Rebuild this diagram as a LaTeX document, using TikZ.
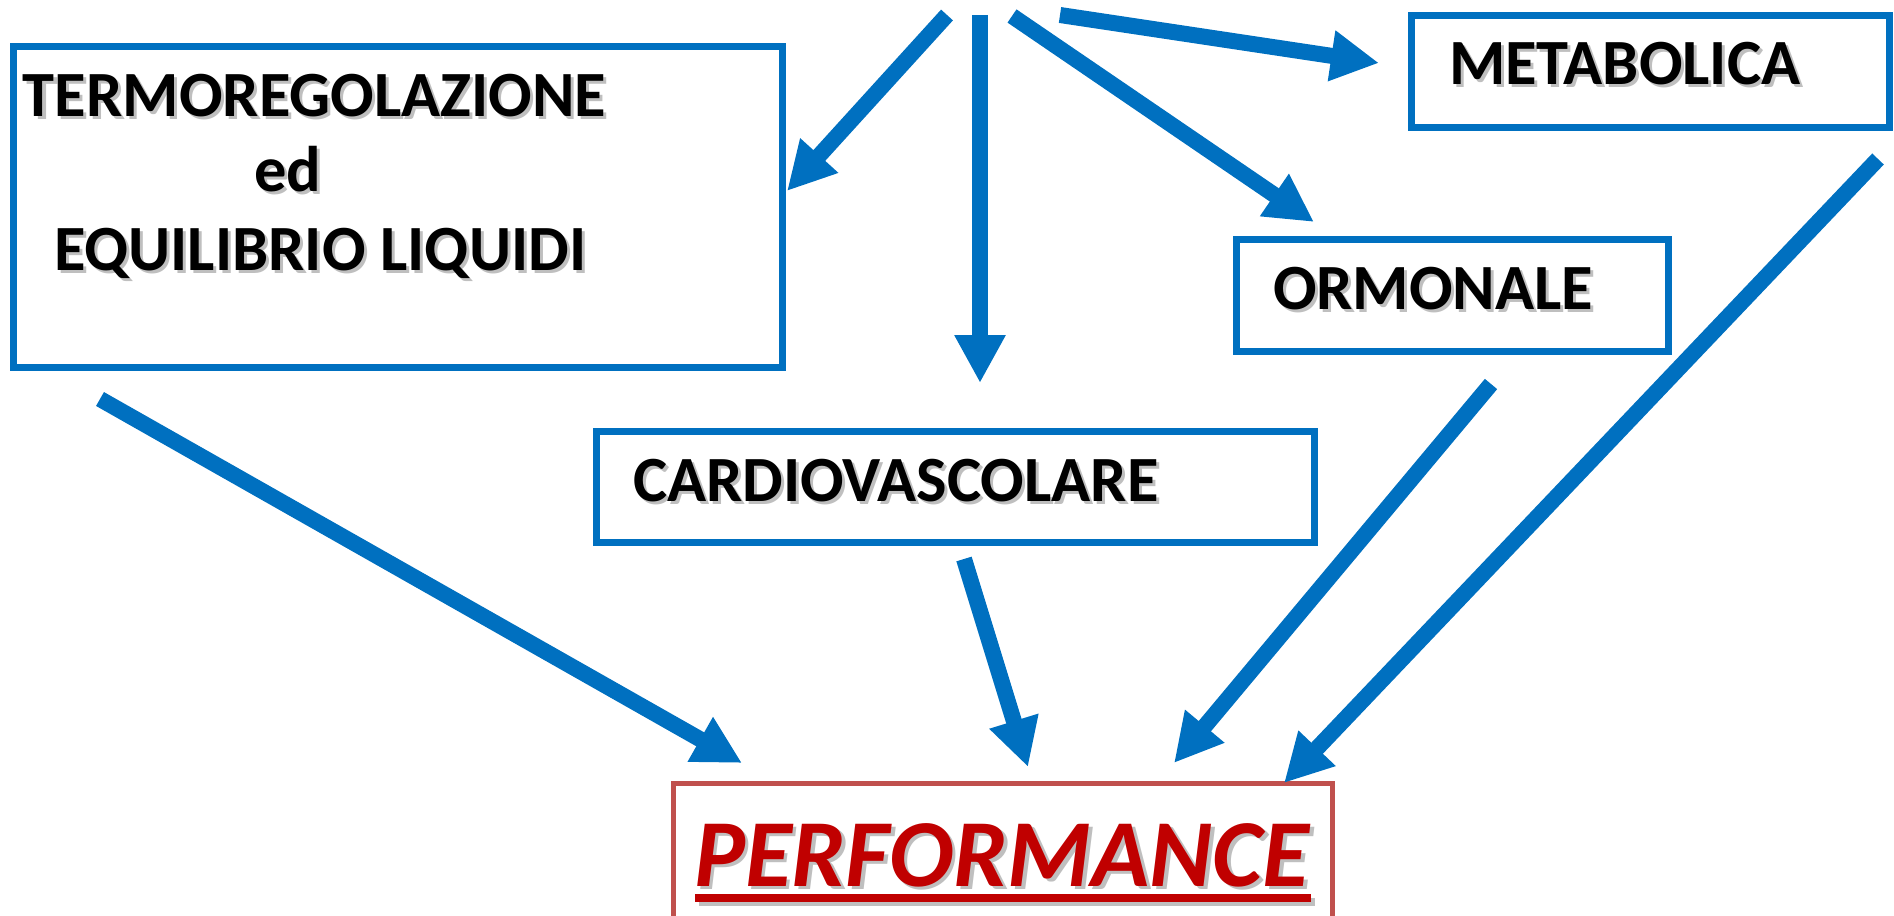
\documentclass[tikz,border=0pt]{standalone}
\usepackage{fontspec}
\setmainfont{Carlito}
\usetikzlibrary{arrows.meta}
\definecolor{oblue}{HTML}{0070C0}
\definecolor{ored}{HTML}{C00000}
\definecolor{obrd}{HTML}{C0504D}
\definecolor{shgray}{HTML}{BFBFBF}
\newcommand\shtxt[2][3pt]{\makebox[0pt][l]{\hspace{#1}\raisebox{-#1}{\color{shgray}#2}}#2}
\tikzset{
  bx/.style={draw=oblue, line width=7pt, inner sep=0pt, outer sep=0pt},
  pbx/.style={draw=obrd, line width=5pt, inner sep=0pt, outer sep=0pt},
  lbl/.style={inner sep=0pt, outer sep=0pt, anchor=base west, font=\fontsize{64.5}{70}\selectfont\bfseries},
  arr/.style={draw=oblue, line width=16pt, -{Triangle[width=48pt,length=48pt]}},
}
\begin{document}
\begin{tikzpicture}[x=1pt,y=-1pt]
\useasboundingbox (0,0) rectangle (1894,915);
% boxes
\node[bx, minimum width=769pt, minimum height=321pt] (termo) at (398,207) {};
\node[bx, minimum width=478pt, minimum height=112pt] (meta) at (1650.5,71.5) {};
\node[bx, minimum width=432pt, minimum height=112pt] (ormo) at (1452.5,295.5) {};
\node[bx, minimum width=718pt, minimum height=111pt] (cardio) at (955.5,487) {};
\begin{scope}
\clip (0,0) rectangle (1894,915);
\node[pbx, minimum width=659pt, minimum height=166pt] (perfbox) at (1003,866.5) {};
\end{scope}
% texts
\node[lbl] (t1) at (23,117) {\shtxt{TERMOREGOLAZIONE}};
\node[lbl] (t2) at (254,191) {\shtxt{ed}};
\node[lbl] (t3) at (54,270) {\shtxt{EQUILIBRIO LIQUIDI}};
\node[lbl] (tm) at (1449,85) {\shtxt{METABOLICA}};
\node[lbl] (to) at (1273,309) {\shtxt{ORMONALE}};
\node[lbl] (tc) at (633,501) {\shtxt{CARDIOVASCOLARE}};
\fill[shgray] (699,898) rectangle (1315,906);
\fill[ored] (695,894) rectangle (1311,902);
\node[lbl, font=\fontsize{96}{100}\selectfont\bfseries\itshape, text=ored] (tp) at (694,886) {\shtxt[3.5pt]{PERFORMANCE}};
% arrow ends
\coordinate (a1s) at (947,15);   \coordinate (a1e) at (787,191);
\coordinate (a2s) at (980,15);   \coordinate (a2e) at (980,383);
\coordinate (a3s) at (1012,16);  \coordinate (a3e) at (1314,222);
\coordinate (a4s) at (1060,15);  \coordinate (a4e) at (1379,63);
\coordinate (a5s) at (100,399);  \coordinate (a5e) at (742,763);
\coordinate (a6s) at (964,559);  \coordinate (a6e) at (1028,767);
\coordinate (a7s) at (1491,384); \coordinate (a7e) at (1174,763);
\coordinate (a8s) at (1878,159); \coordinate (a8e) at (1284,783);
\draw[arr] (a1s) -- (a1e);
\draw[arr] (a2s) -- (a2e);
\draw[arr] (a3s) -- (a3e);
\draw[arr] (a4s) -- (a4e);
\draw[arr] (a5s) -- (a5e);
\draw[arr] (a6s) -- (a6e);
\draw[arr] (a7s) -- (a7e);
\draw[arr] (a8s) -- (a8e);
\end{tikzpicture}
\end{document}
